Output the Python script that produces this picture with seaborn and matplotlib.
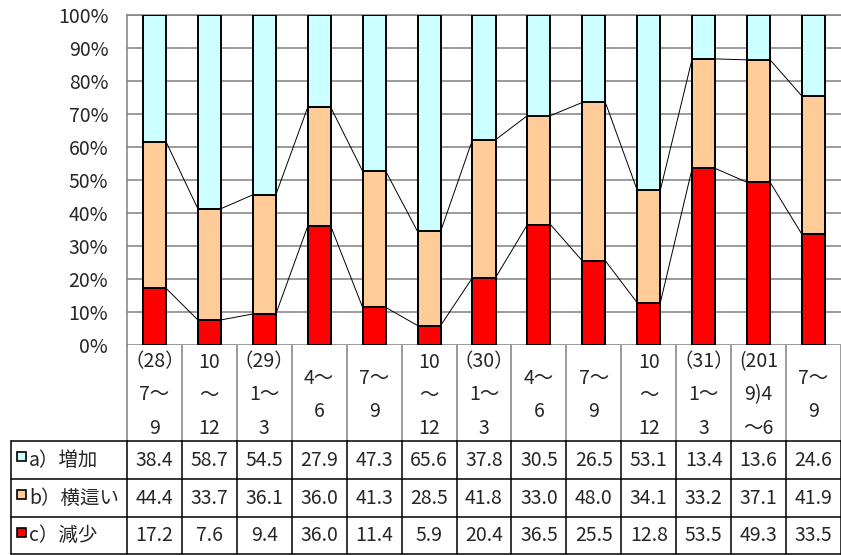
import matplotlib
matplotlib.use("Agg")
import matplotlib.pyplot as plt
import seaborn as sns
import numpy as np
import pandas as pd
from matplotlib.patches import Rectangle

# -- data --
periods = ["（28）\n7～\n9", "10\n～\n12", "（29）\n1～\n3", "4～\n6", "7～\n9",
           "10\n～\n12", "（30）\n1～\n3", "4～\n6", "7～\n9", "10\n～\n12",
           "（31）\n1～\n3", "(201\n9)4\n～6", "7～\n9"]
increase = [38.4, 58.7, 54.5, 27.9, 47.3, 65.6, 37.8, 30.5, 26.5, 53.1, 13.4, 13.6, 24.6]
flat = [44.4, 33.7, 36.1, 36.0, 41.3, 28.5, 41.8, 33.0, 48.0, 34.1, 33.2, 37.1, 41.9]
decrease = [17.2, 7.6, 9.4, 36.0, 11.4, 5.9, 20.4, 36.5, 25.5, 12.8, 53.5, 49.3, 33.5]
row_labels = ["a）増加", "b）横這い", "c）減少"]
colors = ["#CCFFFF", "#FFCC99", "#FF0000"]

df = pd.DataFrame({"pos": range(len(periods)), "a": increase, "b": flat, "c": decrease})
df["top_c"] = df["c"]
df["top_b"] = df["c"] + df["b"]
df["top_a"] = df["top_b"] + df["a"]

sns.set_theme(style="white")
plt.rcParams["font.family"] = ["Noto Sans CJK JP", "DejaVu Sans"]
FS = 14

W, H = 841, 555
fig = plt.figure(figsize=(W / 100, H / 100), dpi=100)
x0, x1, ytop, ybot = 127, 841, 15, 345
ax = fig.add_axes([x0 / W, 1 - ybot / H, (x1 - x0) / W, (ybot - ytop) / H])

bw = 0.42
for col, c in zip(["top_a", "top_b", "top_c"], colors):
    sns.barplot(data=df, x="pos", y=col, color=c, saturation=1, width=bw,
                edgecolor="black", linewidth=1.4, errorbar=None, ax=ax, zorder=3)

# series lines between bars
for col in ["top_c", "top_b"]:
    v = df[col].values
    for i in range(len(v) - 1):
        ax.plot([i + bw / 2, i + 1 - bw / 2], [v[i], v[i + 1]], color="black", lw=0.7, zorder=4)

ax.set_xlim(-0.5, len(periods) - 0.5)
ax.set_ylim(0, 100)
ax.set_yticks(np.arange(0, 101, 10))
ax.set_yticklabels([f"{t}%" for t in range(0, 101, 10)], fontsize=FS)
ax.tick_params(axis="y", length=0, pad=13.5)
ax.set_xticks([])
ax.set_xlabel("")
ax.set_ylabel("")
ax.yaxis.grid(True, color="#808080", lw=1.1, zorder=0)
ax.set_axisbelow(True)
for s in ["right", "bottom"]:
    ax.spines[s].set_visible(False)
for s in ["left", "top"]:
    ax.spines[s].set_color("#808080")
    ax.spines[s].set_linewidth(1.1)

# -- data table below the chart, in pixel coordinates --
tab = fig.add_axes([0, 0, 1, 1], zorder=-1)
tab.set_xlim(0, W)
tab.set_ylim(H, 0)
tab.axis("off")
colw = (x1 - x0) / len(periods)
hdr_bot = 441
rows_y = [441, 479, 517, 554]
lx = 11

for i, p in enumerate(periods):
    cx = x0 + (i + 0.5) * colw
    tab.text(cx, (ybot + hdr_bot) / 2 + 2, p, ha="center", va="center", fontsize=FS,
             linespacing=1.75)
for i in range(len(periods) + 1):
    xx = x0 + i * colw
    tab.plot([xx, xx], [ybot, hdr_bot], color="#808080", lw=1.1)
    tab.plot([xx, xx], [hdr_bot, rows_y[-1]], color="black", lw=1.1)
tab.plot([lx, lx], [hdr_bot, rows_y[-1]], color="black", lw=1.1)
for yy in rows_y:
    tab.plot([lx, W], [yy, yy], color="black", lw=1.1)

series = [increase, flat, decrease]
for r in range(3):
    cy = (rows_y[r] + rows_y[r + 1]) / 2
    tab.add_patch(Rectangle((17, cy - 8), 9, 9, facecolor=colors[r], edgecolor="black", lw=1.2))
    tab.text(29, cy, row_labels[r], ha="left", va="center", fontsize=FS)
    for i, v in enumerate(series[r]):
        tab.text(x0 + (i + 0.5) * colw, cy, f"{v:.1f}", ha="center", va="center", fontsize=FS)

fig.savefig("out.png", dpi=100)
